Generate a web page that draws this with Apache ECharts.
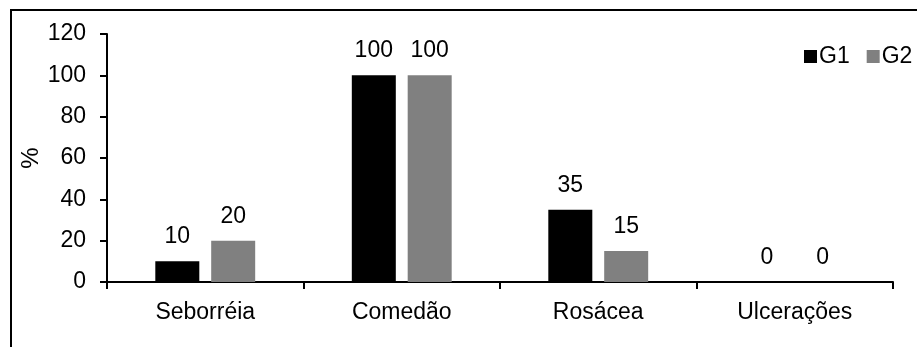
<!DOCTYPE html>
<html>
<head>
<meta charset="utf-8">
<script src="https://cdn.jsdelivr.net/npm/echarts@6/dist/echarts.min.js"></script>
<style>
  html, body { margin: 0; padding: 0; background: #fff; }
  #frame { position: absolute; left: 10px; top: 9px; width: 920px; height: 360px;
           border-left: 2px solid #000; border-top: 2px solid #000; }
  #chart { position: absolute; left: 0; top: 0; width: 917px; height: 347px; }
</style>
</head>
<body>
<div id="frame"></div>
<div id="chart"></div>
<script>
// Lesões observadas por grupo (%)
const categories = ['Seborréia', 'Comedão', 'Rosácea', 'Ulcerações'];
const g1 = [10, 100, 35, 0];
const g2 = [20, 100, 15, 0];
const yTicks = { min: 0, max: 120, interval: 20 };

const font = 'Arial, "Liberation Sans", sans-serif';
const fs = 23;
const chart = echarts.init(document.getElementById('chart'), null, { renderer: 'canvas' });

const labelStyle = {
  show: true,
  position: 'top',
  distance: 13,
  color: '#000',
  fontFamily: font,
  fontSize: fs
};

chart.setOption({
  animation: false,
  backgroundColor: 'transparent',
  textStyle: { fontFamily: font, color: '#000' },
  grid: { left: 107, right: 24, top: 34, bottom: 65, containLabel: false },
  legend: {
    data: ['G1', 'G2'],
    orient: 'horizontal',
    left: 804,
    top: 45,
    padding: 0,
    itemWidth: 13,
    itemHeight: 13,
    itemGap: 17,
    icon: 'rect',
    textStyle: { fontFamily: font, fontSize: fs, color: '#000', padding: [0, 0, 0, -3] }
  },
  xAxis: {
    type: 'category',
    data: categories,
    axisLine: { lineStyle: { color: '#000', width: 2 } },
    axisTick: { show: true, alignWithLabel: false, interval: 0, length: 7, lineStyle: { color: '#000', width: 2 } },
    axisLabel: { color: '#000', fontFamily: font, fontSize: fs, margin: 19, interval: 0 },
    splitLine: { show: false }
  },
  yAxis: {
    type: 'value',
    min: yTicks.min,
    max: yTicks.max,
    interval: yTicks.interval,
    name: '%',
    nameLocation: 'middle',
    nameRotate: 90,
    nameMoveOverlap: false,
    nameGap: 64,
    nameTextStyle: { color: '#000', fontFamily: font, fontSize: 24 },
    axisLine: { show: true, lineStyle: { color: '#000', width: 2 } },
    axisTick: { show: true, length: 7, lineStyle: { color: '#000', width: 2 } },
    axisLabel: { color: '#000', fontFamily: font, fontSize: fs, margin: 21 },
    splitLine: { show: false }
  },
  series: [
    {
      name: 'G1', type: 'bar', data: g1,
      barWidth: 44, barGap: '27%',
      itemStyle: { color: '#000000' },
      label: labelStyle
    },
    {
      name: 'G2', type: 'bar', data: g2,
      barWidth: 44,
      itemStyle: { color: '#808080' },
      label: labelStyle
    }
  ]
});
</script>
</body>
</html>
